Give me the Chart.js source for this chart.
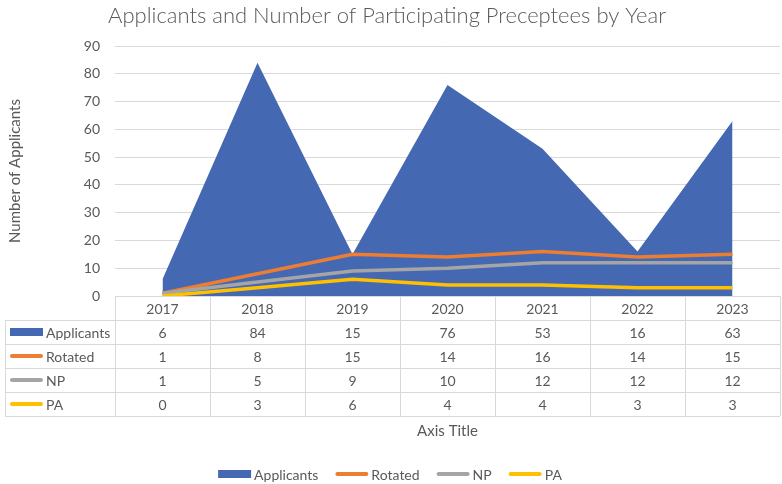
<!DOCTYPE html>
<html><head><meta charset="utf-8">
<script src="https://cdn.jsdelivr.net/npm/chart.js@4.4.0/dist/chart.umd.min.js"></script>
<style>html,body{margin:0;padding:0;background:#fff;}#wrap{width:782px;height:484px;}</style>
</head><body><div id="wrap"><canvas id="c" width="782" height="484"></canvas></div>
<script>
const years = ['2017','2018','2019','2020','2021','2022','2023'];
const applicants = [6,84,15,76,53,16,63];
const rotated = [1,8,15,14,16,14,15];
const np = [1,5,9,10,12,12,12];
const pa = [0,3,6,4,4,3,3];
const seriesNames = ['Applicants','Rotated','NP','PA'];
const seriesColors = ['#4568B2','#ED7D31','#A5A5A5','#FFC000'];
const seriesData = [applicants, rotated, np, pa];
const chartTitle = 'Applicants and Number of Participating Preceptees by Year';
const yTitle = 'Number of Applicants';
const xTitle = 'Axis Title';
const FONT = 'Lato, "Open Sans", sans-serif';
const TXT = '#595959';
const GRID = '#d9d9d9';

const extras = {
  id: 'extras',
  afterDraw(chart) {
    const ctx = chart.ctx;
    const xs = chart.scales.x;
    const ca = chart.chartArea;
    const c0 = xs.getPixelForValue(0), c1 = xs.getPixelForValue(1);
    const half = (c1 - c0) / 2;
    const top = ca.bottom;
    const rowH = 24;
    const labelLeft = 5;
    ctx.save();
    ctx.strokeStyle = GRID; ctx.lineWidth = 1;
    ctx.beginPath();
    const nRows = 1 + seriesNames.length;
    for (let r = 1; r <= nRows; r++) {
      const y = Math.round(top + r * rowH) + 0.5;
      ctx.moveTo(labelLeft, y); ctx.lineTo(ca.right, y);
    }
    for (let i = 0; i <= years.length; i++) {
      const x = Math.round(c0 - half + i * 2 * half) + 0.5;
      ctx.moveTo(x, top); ctx.lineTo(x, top + nRows * rowH);
    }
    ctx.moveTo(labelLeft + 0.5, top + rowH); ctx.lineTo(labelLeft + 0.5, top + nRows * rowH);
    ctx.stroke();
    ctx.fillStyle = TXT; ctx.font = '14px ' + FONT;
    ctx.textAlign = 'center'; ctx.textBaseline = 'middle';
    years.forEach((yv, i) => ctx.fillText(yv, xs.getPixelForValue(i), top + rowH / 2 + 1));
    seriesData.forEach((arr, r) => {
      const cy = top + (r + 1) * rowH + rowH / 2 + 1;
      arr.forEach((v, i) => ctx.fillText(String(v), xs.getPixelForValue(i), cy));
    });
    ctx.textAlign = 'left';
    seriesNames.forEach((n, r) => {
      const cy = top + (r + 1) * rowH + rowH / 2;
      drawKey(ctx, r, 10, cy, 33);
      ctx.fillStyle = TXT;
      ctx.fillText(n, 46, cy + 1);
    });
    ctx.textAlign = 'center';
    ctx.font = '15px ' + FONT;
    ctx.fillText(xTitle, (ca.left + ca.right) / 2, 431);
    ctx.save();
    ctx.translate(15, (ca.top + ca.bottom) / 2);
    ctx.rotate(-Math.PI / 2);
    ctx.fillText(yTitle, 0, 0);
    ctx.restore();
    ctx.font = '300 22px ' + FONT;
    ctx.fillText(chartTitle, 387, 16);
    ctx.font = '14px ' + FONT;
    const keyW = 33, gap = 3, itemGap = 17;
    const widths = seriesNames.map(n => keyW + gap + ctx.measureText(n).width);
    const total = widths.reduce((a, b) => a + b, 0) + itemGap * (seriesNames.length - 1);
    let x = 390 - total / 2;
    const ly = 474;
    ctx.textAlign = 'left';
    seriesNames.forEach((n, r) => {
      drawKey(ctx, r, x, ly, keyW);
      ctx.fillStyle = TXT;
      ctx.fillText(n, x + keyW + gap, ly + 1);
      x += widths[r] + itemGap;
    });
    ctx.restore();
  }
};
function drawKey(ctx, r, x, cy, w) {
  if (r === 0) {
    ctx.fillStyle = seriesColors[0];
    ctx.fillRect(x, cy - 4, w, 8);
  } else {
    ctx.strokeStyle = seriesColors[r]; ctx.lineWidth = 4; ctx.lineCap = 'round';
    ctx.beginPath(); ctx.moveTo(x + 2, cy); ctx.lineTo(x + w - 2, cy); ctx.stroke();
  }
}

new Chart(document.getElementById('c'), {
  type: 'line',
  data: {
    labels: years,
    datasets: [
      { label: seriesNames[0], data: applicants, fill: 'origin', backgroundColor: seriesColors[0], borderColor: seriesColors[0], borderWidth: 0, pointRadius: 0, tension: 0, order: 4 },
      { label: seriesNames[1], data: rotated, fill: false, borderColor: seriesColors[1], borderWidth: 3.5, pointRadius: 0, tension: 0, order: 3 },
      { label: seriesNames[2], data: np, fill: false, borderColor: seriesColors[2], borderWidth: 3.5, pointRadius: 0, tension: 0, order: 2 },
      { label: seriesNames[3], data: pa, fill: false, borderColor: seriesColors[3], borderWidth: 3.5, pointRadius: 0, tension: 0, order: 1 }
    ]
  },
  options: {
    responsive: false,
    animation: false,
    layout: { padding: { top: 46, bottom: 188, left: 0, right: 2 } },
    plugins: { legend: { display: false }, title: { display: false }, tooltip: { enabled: false } },
    scales: {
      x: { type: 'category', offset: true, display: false },
      y: {
        min: 0, max: 90,
        afterFit: s => { s.width = 115; },
        ticks: { stepSize: 10, padding: 15, color: TXT, font: { family: FONT, size: 14 } },
        grid: { color: GRID, drawTicks: false },
        border: { display: false }
      }
    }
  },
  plugins: [extras]
});
</script>
</body></html>
